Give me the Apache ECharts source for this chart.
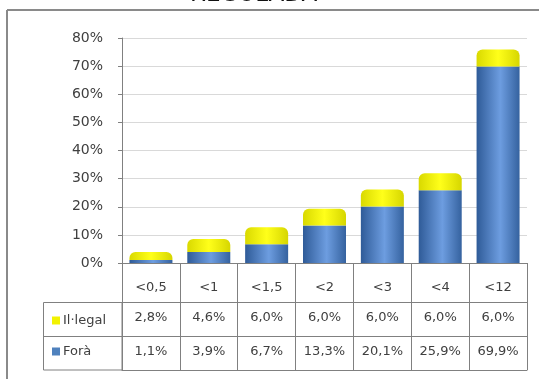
<!DOCTYPE html>
<html>
<head>
<meta charset="utf-8">
<script src="https://cdn.jsdelivr.net/npm/echarts@6/dist/echarts.min.js"></script>
<style>html,body{margin:0;padding:0;background:#fff}#c{width:539px;height:379px}</style>
</head>
<body>
<div id="c"></div>
<script>
const categories = ['<0,5', '<1', '<1,5', '<2', '<3', '<4', '<12'];
const illegal = [2.8, 4.6, 6.0, 6.0, 6.0, 6.0, 6.0];
const fora = [1.1, 3.9, 6.7, 13.3, 20.1, 25.9, 69.9];
const yTicks = [0, 10, 20, 30, 40, 50, 60, 70, 80];
const titleText = 'REGULADA';

const fmt = v => v.toFixed(1).replace('.', ',') + '%';
const lineCol = '#808080';
const txtCol = '#404040';
const font = '"DejaVu Sans", Verdana, sans-serif';

const chart = echarts.init(document.getElementById('c'), null, {renderer: 'canvas'});

function tableAxis(offset, tickLen, labels, margin) {
  return {
    type: 'category', data: categories, position: 'bottom', offset: offset,
    gridIndex: 0,
    axisLine: {show: true, lineStyle: {color: lineCol, width: 1}},
    axisTick: {show: tickLen > 0, interval: 0, length: tickLen, lineStyle: {color: lineCol, width: 1}},
    axisLabel: {show: !!labels, interval: 0, margin: margin, verticalAlign: 'middle',
      color: txtCol, fontSize: 13, fontFamily: font,
      formatter: (v, i) => labels ? labels[i] : ''},
    splitLine: {show: false}
  };
}

chart.setOption({
  animation: false,
  backgroundColor: '#fff',
  grid: {left: 122, right: 12, top: 38, bottom: 116, containLabel: false},
  legend: {
    orient: 'vertical', left: 47, top: 309, itemWidth: 8, itemHeight: 8, itemGap: 18,
    icon: 'rect', selectedMode: false,
    textStyle: {color: txtCol, fontSize: 13, fontFamily: font, padding: [0, 0, 0, -2]},
    data: [
      {name: 'Il·legal', itemStyle: {color: '#f2f200'}},
      {name: 'Forà', itemStyle: {color: '#4f81bd'}}
    ]
  },
  xAxis: [
    tableAxis(0, 39, categories, 25),
    tableAxis(39, 34, illegal.map(fmt), 16),
    tableAxis(73, 34, fora.map(fmt), 16),
    tableAxis(107, 0, null, 0)
  ],
  yAxis: {
    type: 'value', min: yTicks[0], max: yTicks[yTicks.length - 1], interval: 10,
    axisLine: {show: true, lineStyle: {color: lineCol}},
    axisTick: {show: true, inside: false, length: 4, lineStyle: {color: lineCol}},
    axisLabel: {color: txtCol, fontSize: 14, fontFamily: font, margin: 19, formatter: v => v + '%'},
    splitLine: {show: true, lineStyle: {color: '#d9d9d9', width: 1}}
  },
  series: [
    {
      name: 'Forà', type: 'bar', stack: 'a', barWidth: 43, data: fora,
      itemStyle: {color: new echarts.graphic.LinearGradient(0, 0, 1, 0, [
        {offset: 0, color: '#2f5b98'},
        {offset: 0.55, color: '#6d9de0'},
        {offset: 1, color: '#35629f'}
      ])}
    },
    {
      name: 'Il·legal', type: 'bar', stack: 'a', barWidth: 43, data: illegal,
      itemStyle: {borderRadius: [6, 6, 0, 0], color: new echarts.graphic.LinearGradient(0, 0, 1, 0, [
        {offset: 0, color: '#d9d900'},
        {offset: 0.5, color: '#ffff1a'},
        {offset: 1, color: '#d6d600'}
      ])}
    }
  ],
  graphic: [
    {type: 'text', x: 190, y: -16, style: {text: titleText, fontSize: 23, fontFamily: font, fill: '#111', fontWeight: 'normal'}},
    {type: 'line', shape: {x1: 7, y1: 10, x2: 539, y2: 10}, style: {stroke: '#8a8a8a', lineWidth: 2}},
    {type: 'line', shape: {x1: 7, y1: 10, x2: 7, y2: 379}, style: {stroke: '#8a8a8a', lineWidth: 2}},
    {type: 'rect', shape: {x: 43.5, y: 302.5, width: 78.5, height: 67.5}, style: {fill: 'none', stroke: lineCol, lineWidth: 1}},
    {type: 'line', shape: {x1: 43.5, y1: 336.5, x2: 122, y2: 336.5}, style: {stroke: lineCol, lineWidth: 1}}
  ]
});
</script>
</body>
</html>
